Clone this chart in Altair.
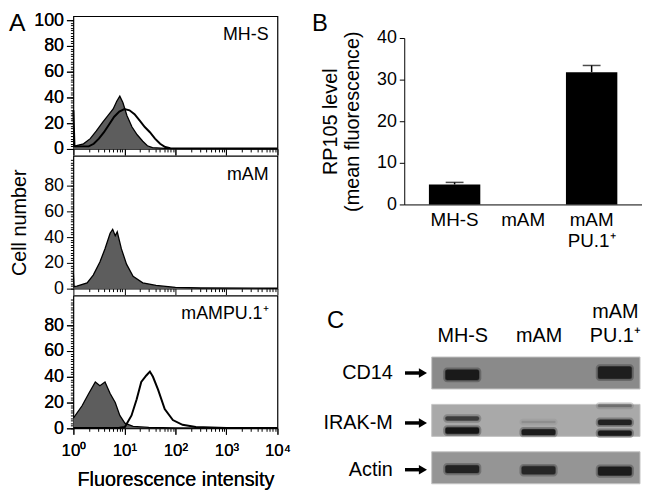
import json
import altair as alt
import pandas as pd

FONT = "Liberation Sans"
panel_letters = ["A", "B", "C"]

# ---------------- Panel A: flow cytometry histograms ----------------
hist_names = ["MH-S", "mAM", "mAMPU.1⁺"]

mhs_fill_x = [1.0, 1.58, 2.14, 2.82, 3.80, 5.01, 6.03, 7.08, 8.13, 9.33, 11.2, 14.1, 17.8, 22.9, 28.2, 35.5, 63.1, 10000]
mhs_fill_y = [2, 4, 8, 14, 21, 27, 31, 37, 41, 36, 26, 17, 11, 6, 2.5, 1, 0.5, 0.3]
mhs_open_x = [1.0, 1.05, 2.0, 2.51, 3.16, 3.98, 5.01, 6.31, 7.94, 10.0, 12.6, 15.8, 20.0, 25.1, 31.6, 39.8, 50.1, 63.1, 79.4, 10000]
mhs_open_y = [30, 2, 2, 4, 8, 13, 19, 25, 29, 31, 30, 27, 22, 17, 13, 8, 4, 1.5, 0.5, 0.3]

mam_fill_x = [1.0, 1.03, 1.17, 1.86, 2.45, 3.31, 4.17, 5.25, 5.89, 6.61, 7.24, 8.71, 11.0, 14.8, 22.9, 41.7, 100, 316, 10000]
mam_fill_y = [12, 1.5, 2, 4.5, 10.5, 20.6, 31, 43, 46, 41, 44, 31, 19, 9.5, 4.5, 2.5, 1, 0.5, 0.3]

pu_fill_x = [1.0, 1.48, 2.0, 2.69, 3.31, 4.17, 5.25, 6.61, 8.13, 10.2, 14.8, 30, 100, 10000]
pu_fill_y = [8, 17.5, 27, 36, 33, 36, 27, 20, 10, 4, 1.5, 0.7, 0.3, 0.2]
pu_open_x = [1.0, 8.0, 10.2, 13.8, 17.4, 21.4, 26.9, 31.6, 36.3, 45.7, 61.7, 89.1, 138, 251, 1000, 10000]
pu_open_y = [0.3, 0.5, 1, 10, 22.5, 36, 41, 44, 40, 30, 15, 6.4, 2.7, 1, 0.3, 0.2]

x_major = [1, 10, 100, 1000, 10000]
x_sup = ["⁰", "¹", "²", "³", "⁴"]

# ---------------- Panel B: bar chart ----------------
bar_cats = ["MH-S", "mAM", "mAM|PU.1⁺"]
bar_vals = [4.8, 0.0, 31.8]
bar_errs = [0.5, 0.0, 1.6]

# ---------------- Panel C: western blots ----------------
lane_names = [" |MH-S", " |mAM", "mAM|PU.1⁺"]
blot_rows = ["CD14", "IRAK-M", "Actin"]
blot_bg = ["#8a8a8a", "#a9a9a9", "#959595"]
row_label_frac = [0.5, 0.58, 0.56]
band_row = [0, 0, 1, 1, 1, 1, 1, 1, 1, 2, 2, 2]
band_lane = [0, 2, 0, 0, 1, 1, 2, 2, 2, 0, 1, 2]
band_top = [0.40, 0.30, 0.38, 0.72, 0.52, 0.78, 0.00, 0.48, 0.82, 0.42, 0.45, 0.47]
band_bot = [0.72, 0.68, 0.50, 0.92, 0.58, 0.96, 0.08, 0.64, 0.98, 0.66, 0.70, 0.74]
band_tone = ["#1a1a1a", "#1e1e1e", "#3c3c3c", "#161616", "#8e8e8e", "#1c1c1c",
             "#6f6f6f", "#222222", "#1a1a1a", "#222222", "#262626", "#1c1c1c"]

# ================= build =================
HW, HH = 206, 134
x_label_expr = (f"'10' + {json.dumps(x_sup, ensure_ascii=False)}"
                f"[indexof({json.dumps(x_major)}, datum.value)]")
x_minor_vals = [m * 10 ** e for e in range(4) for m in range(2, 10)]
y_minor_vals = list(range(0, 101, 2))


def hist_panel(idx, fx, fy, ox, oy):
    first = idx == 0
    last = idx == 2
    xscale = alt.Scale(type="log", domain=[1, 10000], nice=False)
    yscale = alt.Scale(domain=[0, 103], nice=False)
    y_major = alt.Axis(
        orient="left",
        values=[0, 20, 40, 60, 80, 100] if first else [0, 20, 40, 60, 80],
        tickSize=7, labelFontSize=18, labelPadding=3, domain=False,
        title="Cell number" if idx == 1 else None, titleFontSize=20, titlePadding=14,
    )
    y_minor = alt.Axis(orient="left", values=y_minor_vals, labels=False, tickSize=3,
                       domain=False, title=None)
    x_major_ax = alt.Axis(
        orient="bottom", values=x_major, labelExpr=x_label_expr, labels=last,
        tickSize=6, domain=False, labelOverlap=False, labelFlush=False,
        labelFontSize=17, labelPadding=8,
        title="Fluorescence intensity" if last else None, titleFontSize=20, titlePadding=12,
    )
    x_minor_ax = alt.Axis(orient="bottom", values=x_minor_vals, labels=False, tickSize=3,
                          domain=False, title=None)
    fdf = pd.DataFrame({"x": fx, "y": fy})
    layers = [
        alt.Chart(fdf).mark_area(color="#5d5d5d").encode(
            alt.X("x:Q", scale=xscale, axis=x_major_ax),
            alt.Y("y:Q", scale=yscale, axis=y_major)),
        alt.Chart(fdf).mark_line(color="black", strokeWidth=1.3).encode(
            alt.X("x:Q", scale=xscale, axis=x_minor_ax),
            alt.Y("y:Q", scale=yscale, axis=y_minor)),
    ]
    if ox:
        odf = pd.DataFrame({"x": ox, "y": oy})
        layers.append(alt.Chart(odf).mark_line(color="black", strokeWidth=2).encode(
            alt.X("x:Q", scale=xscale, axis=x_major_ax),
            alt.Y("y:Q", scale=yscale, axis=y_major)))
    layers.append(
        alt.Chart(pd.DataFrame({"t": [hist_names[idx]]}))
        .mark_text(align="right", baseline="middle", fontSize=18)
        .encode(text="t:N", x=alt.value(HW - 9), y=alt.value(19))
    )
    if first:
        layers.append(
            alt.Chart(pd.DataFrame({"t": [panel_letters[0]]}))
            .mark_text(align="left", baseline="top", fontSize=25)
            .encode(text="t:N", x=alt.value(-65), y=alt.value(-5))
        )
    return (alt.layer(*layers)
            .resolve_axis(x="independent", y="independent")
            .properties(width=HW, height=HH,
                        view=alt.ViewBackground(stroke="black", strokeWidth=1.2)))


p1 = hist_panel(0, mhs_fill_x, mhs_fill_y, mhs_open_x, mhs_open_y)
p2 = hist_panel(1, mam_fill_x, mam_fill_y, None, None)
p3 = hist_panel(2, pu_fill_x, pu_fill_y, pu_open_x, pu_open_y)
left = alt.vconcat(p1, p2, p3, spacing=7, bounds="flush")

# ---- B
bdf = pd.DataFrame({"cat": bar_cats, "val": bar_vals, "err": bar_errs})
bdf["hi"] = bdf["val"] + bdf["err"]
BW, BH = 240, 168
xB = alt.X(
    "cat:N", sort=bar_cats,
    scale=alt.Scale(paddingInner=0.25, paddingOuter=0.36),
    axis=alt.Axis(title=None, labelAngle=0, ticks=False, tickSize=0,
                  labelExpr="split(datum.label, '|')", labelFontSize=19,
                  labelPadding=6, labelLineHeight=21),
)
yB = alt.Y(
    "val:Q", scale=alt.Scale(domain=[0, 40], nice=False),
    axis=alt.Axis(values=[0, 10, 20, 30, 40], title=["RP105 level", "(mean fluorescence)"],
                  titleFontSize=20, titleLineHeight=22, labelFontSize=18, tickSize=5,
                  labelPadding=3, titlePadding=14),
)
bars = alt.Chart(bdf).mark_bar(color="black").encode(xB, yB)
err_base = alt.Chart(bdf).transform_filter("datum.err > 0")
err_rule = err_base.mark_rule(color="black", strokeWidth=1.5).encode(
    x=alt.X("cat:N", sort=bar_cats), y="val:Q", y2="hi:Q")
err_cap = err_base.mark_tick(color="black", thickness=1.5, size=18).encode(
    x=alt.X("cat:N", sort=bar_cats), y="hi:Q")
letterB = (alt.Chart(pd.DataFrame({"t": [panel_letters[1]]}))
           .mark_text(align="left", baseline="top", fontSize=24)
           .encode(text="t:N", x=alt.value(-93), y=alt.value(-26)))
chartB = alt.layer(bars, err_rule, err_cap, letterB).properties(width=BW, height=BH)

# ---- C
CW, CH = 238, 128
ROWP = 1.48
xC = alt.Scale(domain=[-0.76, 2.33], nice=False, zero=False)
yC = alt.Scale(domain=[0, 3.96], reverse=True, nice=False)
row_label_pos = [round(i * ROWP + f, 4) for i, f in enumerate(row_label_frac)]
bgdf = pd.DataFrame({
    "row": blot_rows, "shade": blot_bg,
    "y0": [i * ROWP for i in range(3)], "y1": [i * ROWP + 1 for i in range(3)],
})
bgdf["x0"] = -0.40
bgdf["x1"] = 2.33
topaxis = alt.Axis(
    orient="top", values=[0, 1, 2], title=None, ticks=False, tickSize=0, domain=False,
    labelExpr=f"split({json.dumps(lane_names, ensure_ascii=False)}[datum.value], '|')",
    labelFontSize=20, labelLineHeight=24, labelPadding=36, labelAngle=0,
)
leftaxis = alt.Axis(
    values=row_label_pos, title=None, ticks=False, tickSize=0, domain=False,
    labelExpr=f"{json.dumps(blot_rows)}[indexof({json.dumps(row_label_pos)}, datum.value)]",
    labelFontSize=20, labelPadding=12, labelOverlap=False,
)
bg = alt.Chart(bgdf).mark_rect(stroke="#c4c4c4", strokeWidth=1).encode(
    x=alt.X("x0:Q", scale=xC, axis=topaxis), x2="x1:Q",
    y=alt.Y("y0:Q", scale=yC, axis=leftaxis), y2="y1:Q",
    color=alt.Color("shade:N", scale=None),
)
bnd = pd.DataFrame({"row": band_row, "lane": band_lane, "t": band_top, "b": band_bot, "tone": band_tone})
bnd["x0"] = bnd["lane"] - 0.22
bnd["x1"] = bnd["lane"] + 0.22
bnd["y0"] = bnd["row"] * ROWP + bnd["t"]
bnd["y1"] = bnd["row"] * ROWP + bnd["b"]
bnd["hx0"] = bnd["x0"] - 0.03
bnd["hx1"] = bnd["x1"] + 0.03
bnd["hy0"] = bnd["y0"] - 0.07
bnd["hy1"] = bnd["y1"] + 0.07
halo = alt.Chart(bnd).mark_rect(cornerRadius=4, opacity=0.3).encode(
    x="hx0:Q", x2="hx1:Q", y="hy0:Q", y2="hy1:Q", color=alt.Color("tone:N", scale=None))
bands = alt.Chart(bnd).mark_rect(cornerRadius=2, strokeWidth=1.2, strokeOpacity=0.45).encode(
    x="x0:Q", x2="x1:Q", y="y0:Q", y2="y1:Q",
    color=alt.Color("tone:N", scale=None), stroke=alt.Stroke("tone:N", scale=None),
)
adf = pd.DataFrame({"y": row_label_pos})
adf["xs"] = -0.75
adf["xe"] = -0.55
adf["xh"] = -0.515
arrow_shaft = alt.Chart(adf).mark_rule(color="black", strokeWidth=3.5).encode(
    x="xs:Q", x2="xe:Q", y="y:Q")
arrow_head = alt.Chart(adf).mark_point(shape="triangle-right", filled=True, color="black",
                                       size=90, opacity=1).encode(x="xh:Q", y="y:Q")
letterC = (alt.Chart(pd.DataFrame({"t": [panel_letters[2]]}))
           .mark_text(align="left", baseline="top", fontSize=24)
           .encode(text="t:N", x=alt.value(-78), y=alt.value(-48)))
chartC = alt.layer(bg, halo, bands, arrow_shaft, arrow_head, letterC).properties(width=CW, height=CH)


def spacer(h):
    return (alt.Chart(pd.DataFrame({"s": [0]})).mark_point(opacity=0, size=1)
            .encode(x=alt.value(0), y=alt.value(0)).properties(width=BW, height=h))


right = alt.vconcat(spacer(22), chartB, spacer(154), chartC, spacing=0, bounds="flush")

# nested flush concats count as zero width, so the column gap includes the left width
chart = (
    alt.hconcat(left, right, spacing=HW + 128, bounds="flush")
    .properties(padding=0)
    .configure(font=FONT)
    .configure_view(strokeWidth=0)
    .configure_axis(grid=False, domainColor="black", tickColor="black", labelColor="black",
                    titleColor="black", titleFontWeight="normal", labelFont=FONT, titleFont=FONT)
)
chart.save("out.html", embed_options={"renderer": "svg", "actions": False})
